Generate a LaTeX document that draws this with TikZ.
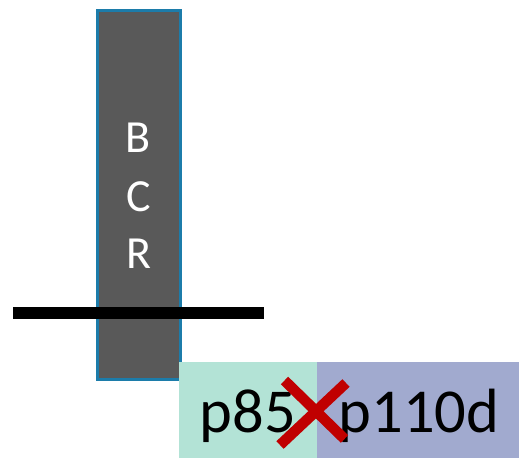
\documentclass[tikz,border=0pt]{standalone}
\usepackage{fontspec}
\setmainfont{Carlito}
\definecolor{bcrfill}{HTML}{595959}
\definecolor{bcredge}{HTML}{1C7CAA}
\definecolor{pgreen}{HTML}{B3E3D6}
\definecolor{pblue}{HTML}{A1AACF}
\definecolor{xred}{HTML}{C00000}
\begin{document}
\begin{tikzpicture}[x=1pt,y=-1pt,
  receptor/.style={draw=bcredge,line width=3pt,fill=bcrfill},
  letter/.style={text=white,font=\fontsize{46}{54}\selectfont,anchor=base,inner sep=0pt},
  subunit/.style={draw=none,inner sep=0pt},
  label/.style={font=\fontsize{62.5}{70}\selectfont,anchor=base,inner sep=0pt},
  membrane/.style={line width=12pt,black},
  block/.style={xred,line width=10.5pt}]
  \useasboundingbox (0,0) rectangle (519,458);
  % receptor column
  \draw[receptor] (97.5,10) rectangle (180,379.5);
  \node[letter] (lb) at (138.5,152) {B};
  \node[letter] (lc) at (138.5,211) {C};
  \node[letter] (lr) at (138.5,268) {R};
  % membrane
  \coordinate (m1) at (13,313);
  \coordinate (m2) at (264,313);
  \draw[membrane] (m1) -- (m2);
  % PI3K subunits
  \fill[pgreen] (179,362) rectangle (317.3,458);
  \fill[pblue] (317.3,362) rectangle (519,458);
  \node[label] (p85) at (248,432.5) {p85};
  \node[label] (p110) at (419,432.5) {p110d};
  % inhibition cross
  \coordinate (a1) at (284.5,380.5);
  \coordinate (a2) at (344.5,439);
  \coordinate (b1) at (346,383);
  \coordinate (b2) at (280,445);
  \draw[block] (a1) -- (a2);
  \draw[block] (b1) -- (b2);
\end{tikzpicture}
\end{document}
